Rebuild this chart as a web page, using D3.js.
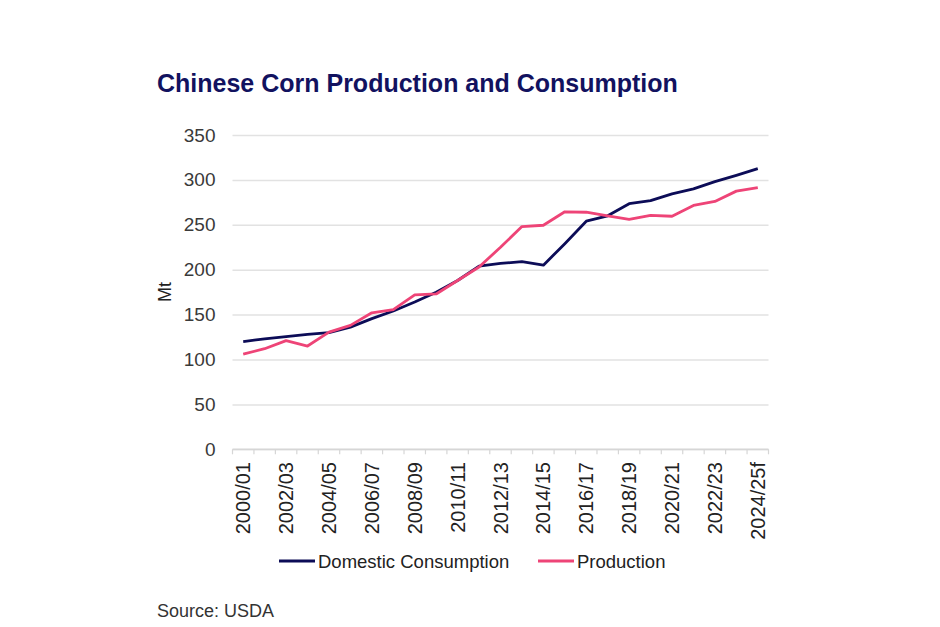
<!DOCTYPE html>
<html>
<head>
<meta charset="utf-8">
<script src="https://cdn.jsdelivr.net/npm/d3@7"></script>
<style>
  html, body { margin: 0; padding: 0; background: #fff; }
  svg { display: block; font-family: "Liberation Sans", Arial, sans-serif; }
</style>
</head>
<body>
<svg id="chart" width="940" height="627"></svg>
<script>
// marketing years, 2000/01 .. 2024/25f
const seasons = [
    "2000/01", "2001/02", "2002/03", "2003/04", "2004/05", "2005/06", "2006/07",
    "2007/08", "2008/09", "2009/10", "2010/11", "2011/12", "2012/13", "2013/14",
    "2014/15", "2015/16", "2016/17", "2017/18", "2018/19", "2019/20", "2020/21",
    "2021/22", "2022/23", "2023/24", "2024/25f"
];

// Mt
const consumption = [
    120, 123, 125.5, 128, 130, 136, 145.5, 154, 164, 175, 188, 204, 207,
    209, 205, 229, 254, 260, 273.5, 277, 284.5, 290, 298, 305, 312.5
];
const production = [
    106, 112, 121, 115, 130.5, 138, 152, 155.5, 172, 173, 188, 203, 225,
    248, 249.5, 264.5, 264, 260, 256, 260.5, 259.5, 271.5, 276, 287.5, 291.5
];

const yTicks = [0, 50, 100, 150, 200, 250, 300, 350];

const series = [
    { name: "Domestic Consumption", values: consumption, color: "#0c0c57" },
    { name: "Production", values: production, color: "#ee4477" }
];

const svg = d3.select("#chart");
const plot = { left: 232.5, right: 768.5, top: 135, bottom: 449.3 };

const x = d3.scaleBand()
    .domain(seasons)
    .range([plot.left, plot.right])
    .padding(0);

const y = d3.scaleLinear()
    .domain([0, 350])
    .range([plot.bottom, plot.top]);

// title
svg.append("text")
    .attr("x", 157)
    .attr("y", 92)
    .attr("font-size", 25)
    .attr("font-weight", "bold")
    .attr("fill", "#12125f")
    .text("Chinese Corn Production and Consumption");

// gridlines + y labels
const yAxis = d3.axisLeft(y)
    .tickValues(yTicks)
    .tickSize(-(plot.right - plot.left))
    .tickPadding(17)
    .tickFormat(d3.format("d"));

const yg = svg.append("g")
    .attr("transform", `translate(${plot.left},0)`)
    .call(yAxis);
yg.select(".domain").remove();
yg.selectAll(".tick line")
    .attr("stroke", "#e2e2e2")
    .attr("stroke-width", 1.5);
yg.selectAll(".tick text")
    .attr("font-size", 19)
    .attr("fill", "#3a3a3a")
    .attr("font-family", "Liberation Sans, Arial, sans-serif");

// y title
svg.append("text")
    .attr("transform", "translate(171,292) rotate(-90)")
    .attr("text-anchor", "middle")
    .attr("font-size", 18)
    .attr("fill", "#222")
    .text("Mt");

// x axis: baseline and ticks at band boundaries
const xg = svg.append("g");
xg.append("line")
    .attr("x1", plot.left).attr("x2", plot.right)
    .attr("y1", plot.bottom).attr("y2", plot.bottom)
    .attr("stroke", "#d6d6d6")
    .attr("stroke-width", 1.5);

const bounds = seasons.map(s => x(s)).concat([plot.right]);
xg.selectAll("line.tk")
    .data(bounds)
    .join("line")
    .attr("class", "tk")
    .attr("x1", d => d).attr("x2", d => d)
    .attr("y1", plot.bottom).attr("y2", plot.bottom + 5)
    .attr("stroke", "#d6d6d6")
    .attr("stroke-width", 1.2);

// every second season is labelled
xg.selectAll("text.lbl")
    .data(seasons.filter((s, i) => i % 2 === 0))
    .join("text")
    .attr("class", "lbl")
    .attr("transform", d => `translate(${x(d) + x.bandwidth() / 2 + 7},462) rotate(-90)`)
    .attr("text-anchor", "end")
    .attr("font-size", 20)
    .attr("fill", "#222")
    .text(d => d);

// lines
const line = d3.line()
    .x((d, i) => x(seasons[i]) + x.bandwidth() / 2)
    .y(d => y(d));

svg.append("g")
    .selectAll("path")
    .data(series)
    .join("path")
    .attr("d", d => line(d.values))
    .attr("fill", "none")
    .attr("stroke", d => d.color)
    .attr("stroke-width", 2.8)
    .attr("stroke-linejoin", "round");

// legend
const legendPos = [279, 538];
const lg = svg.append("g");
series.forEach((s, i) => {
    lg.append("line")
        .attr("x1", legendPos[i]).attr("x2", legendPos[i] + 36)
        .attr("y1", 561).attr("y2", 561)
        .attr("stroke", s.color)
        .attr("stroke-width", 3);
    lg.append("text")
        .attr("x", legendPos[i] + 39)
        .attr("y", 568)
        .attr("font-size", 18.5)
        .attr("fill", "#222")
        .text(s.name);
});

// source
svg.append("text")
    .attr("x", 157)
    .attr("y", 617)
    .attr("font-size", 18)
    .attr("fill", "#333")
    .text("Source: USDA");
</script>
</body>
</html>
